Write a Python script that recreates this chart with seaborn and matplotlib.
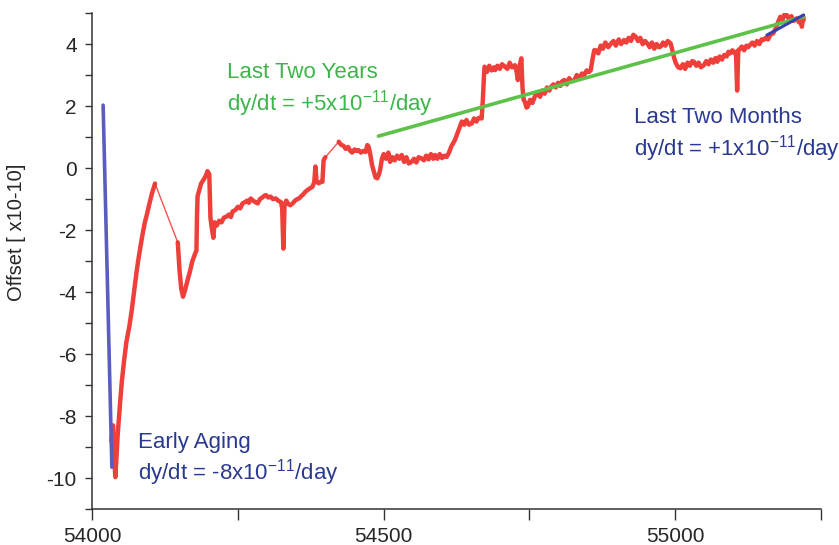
import numpy as np
import pandas as pd
import matplotlib
matplotlib.use("Agg")
import matplotlib.pyplot as plt
import seaborn as sns

# ---- data ----
mjd = [54033, 54036, 54038, 54040, 54044, 54048, 54051, 54055, 54059, 54064, 54068, 54072, 54076, 54079, 54082,
       54086, 54090, 54094, 54099, 54103, 54108, 54147, 54150, 54153, 54156, 54160, 54164, 54167, 54172, 54176,
       54179, 54180, 54181, 54184, 54187, 54192, 54195, 54198, 54201, 54203, 54205, 54208, 54210, 54214, 54218,
       54222, 54226, 54230, 54235, 54238, 54241, 54246, 54250, 54254, 54258, 54262, 54266, 54269, 54272, 54276,
       54280, 54284, 54288, 54292, 54295, 54298, 54302, 54306, 54310, 54315, 54319, 54322, 54324, 54326, 54328,
       54330, 54333, 54336, 54340, 54344, 54348, 54352, 54355, 54359, 54362, 54366, 54370, 54374, 54378, 54381,
       54383, 54385, 54389, 54392, 54395, 54397, 54400, 54423, 54427, 54431, 54435, 54439, 54443, 54446, 54450,
       54454, 54457, 54461, 54465, 54469, 54472, 54474, 54477, 54480, 54483, 54486, 54489, 54492, 54494, 54497,
       54500, 54504, 54508, 54511, 54515, 54519, 54523, 54527, 54531, 54535, 54539, 54543, 54548, 54552, 54556,
       54560, 54565, 54569, 54573, 54577, 54581, 54585, 54588, 54592, 54596, 54600, 54604, 54608, 54612, 54616,
       54619, 54622, 54626, 54630, 54634, 54638, 54642, 54646, 54651, 54655, 54659, 54663, 54668, 54670, 54672,
       54673, 54677, 54681, 54685, 54689, 54691, 54695, 54699, 54703, 54708, 54712, 54716, 54720, 54725, 54728,
       54730, 54733, 54736, 54738, 54740, 54742, 54745, 54747, 54751, 54755, 54760, 54764, 54768, 54772, 54776,
       54780, 54784, 54787, 54791, 54795, 54799, 54803, 54806, 54810, 54814, 54818, 54822, 54827, 54831, 54835,
       54840, 54844, 54848, 54852, 54855, 54858, 54861, 54864, 54868, 54872, 54876, 54880, 54885, 54890, 54894,
       54898, 54903, 54907, 54912, 54916, 54920, 54924, 54928, 54932, 54936, 54940, 54944, 54948, 54952, 54956,
       54960, 54964, 54968, 54972, 54975, 54979, 54983, 54987, 54992, 54995, 54998, 55001, 55005, 55009, 55013,
       55017, 55021, 55025, 55029, 55032, 55036, 55040, 55044, 55049, 55053, 55057, 55061, 55065, 55069, 55072,
       55076, 55080, 55084, 55088, 55091, 55094, 55098, 55102, 55104, 55106, 55108, 55111, 55114, 55118, 55122,
       55125, 55128, 55132, 55136, 55140, 55144, 55148, 55151, 55155, 55159, 55163, 55168, 55172, 55176, 55180,
       55184, 55187, 55191, 55195, 55199, 55203, 55208, 55212, 55215, 55217, 55219, 55220]
offset = [-8.8, -8.3, -9.4, -9.97, -8.6, -7.6, -6.9, -6.2, -5.6, -5.1, -4.6, -4.0, -3.4, -3.0, -2.65,
          -2.2, -1.8, -1.5, -1.1, -0.8, -0.5, -2.4, -3.3, -3.9, -4.15, -3.9, -3.6, -3.4, -3.0, -2.8,
          -2.65, -1.5, -0.9, -0.7, -0.5, -0.35, -0.25, -0.1, -0.2, -1.6, -1.9, -2.25, -1.75, -1.85, -1.7,
          -1.75, -1.6, -1.57, -1.5, -1.58, -1.4, -1.35, -1.25, -1.3, -1.14, -1.1, -1.05, -1.12, -0.98, -1.05,
          -1.1, -1.14, -1.0, -0.95, -0.9, -0.87, -0.95, -0.92, -1.0, -0.98, -1.05, -1.08, -1.1, -1.3, -2.6,
          -1.2, -1.05, -1.15, -1.2, -1.14, -1.05, -1.0, -0.98, -0.9, -0.85, -0.76, -0.7, -0.65, -0.6, -0.45,
          0.05, -0.45, -0.49, -0.45, -0.44, 0.25, 0.35, 0.85, 0.75, 0.72, 0.62, 0.68, 0.55, 0.5, 0.6,
          0.55, 0.58, 0.5, 0.55, 0.52, 0.74, 0.7, 0.45, 0.1, -0.1, -0.3, -0.33, -0.2, -0.05, 0.3,
          0.45, 0.3, 0.5, 0.2, 0.35, 0.25, 0.4, 0.3, 0.42, 0.2, 0.35, 0.15, 0.2, 0.3, 0.18,
          0.35, 0.31, 0.25, 0.4, 0.28, 0.45, 0.3, 0.42, 0.3, 0.45, 0.32, 0.4, 0.36, 0.5, 0.7,
          0.8, 0.9, 1.1, 1.3, 1.5, 1.4, 1.55, 1.4, 1.44, 1.6, 1.5, 1.62, 1.6, 2.2, 3.0,
          3.27, 3.1, 3.3, 3.15, 3.25, 3.16, 3.3, 3.2, 3.35, 3.27, 3.2, 3.4, 3.25, 3.32, 3.1,
          2.84, 3.3, 3.54, 2.6, 2.2, 2.14, 1.95, 1.98, 2.2, 2.1, 2.35, 2.41, 2.3, 2.5, 2.4,
          2.6, 2.5, 2.62, 2.7, 2.6, 2.75, 2.65, 2.8, 2.84, 2.7, 2.9, 2.8, 2.84, 3.0, 2.9,
          3.05, 3.0, 3.15, 3.1, 3.16, 3.5, 3.8, 3.8, 3.7, 3.95, 3.85, 4.05, 3.9, 4.02, 4.1,
          3.95, 4.15, 4.0, 4.13, 4.05, 4.2, 4.1, 4.3, 4.24, 4.1, 4.2, 4.0, 4.1, 4.02, 3.9,
          4.05, 3.85, 4.0, 3.9, 3.92, 4.05, 3.95, 4.1, 4.02, 3.8, 3.55, 3.38, 3.25, 3.22, 3.35,
          3.2, 3.4, 3.3, 3.45, 3.43, 3.3, 3.4, 3.25, 3.32, 3.45, 3.35, 3.5, 3.4, 3.55, 3.43,
          3.6, 3.5, 3.65, 3.6, 3.75, 3.7, 3.8, 3.7, 3.75, 2.5, 3.8, 3.85, 3.92, 3.8, 3.95,
          3.9, 3.97, 4.05, 3.95, 4.1, 4.0, 4.15, 4.13, 4.2, 4.15, 4.3, 4.35, 4.5, 4.7, 4.88,
          4.8, 4.95, 4.94, 4.8, 4.9, 4.75, 4.83, 4.7, 4.85, 4.56, 4.9, 4.77]

early_fit_x = [54019, 54034]
early_fit_y = [2.03, -9.65]
years_fit_x = [54491, 55220]
years_fit_y = [1.03, 4.88]
months_fit_x = [55157, 55220]
months_fit_y = [4.29, 4.94]

x_major = [54000, 54500, 55000]
x_minor = [54250, 54750, 55250]
y_major = [-10, -8, -6, -4, -2, 0, 2, 4]
y_minor = [-11, -9, -7, -5, -3, -1, 1, 3, 5]

# ---- style ----
sns.set_theme(style="ticks")
plt.rcParams['font.family'] = ['Liberation Sans', 'DejaVu Sans']
plt.rcParams['mathtext.fontset'] = 'custom'
plt.rcParams['mathtext.rm'] = 'Liberation Sans'
plt.rcParams['mathtext.it'] = 'Liberation Sans'
plt.rcParams['mathtext.sf'] = 'Liberation Sans'

RED = '#ee2a24'
GREEN = '#5ec24a'
GREEN_TXT = '#3db54a'
BLUE_LINE = '#5a5cc0'
BLUE_TXT = '#2b3990'
SPINE = '#333333'

fig = plt.figure(figsize=(8.39, 5.45), dpi=100)
ax = fig.add_axes([0.1097, 0.066, 0.869, 0.910])

df = pd.DataFrame({'mjd': mjd, 'offset': offset})
# thin connector lines across data gaps
gap = df['mjd'].diff() > 15
conn_idx = [i for i in df.index[gap]]
for i in conn_idx:
    seg = df.iloc[i - 1:i + 1]
    sns.lineplot(data=seg, x='mjd', y='offset', ax=ax, color=RED, lw=1.0, alpha=0.8,
                 estimator=None, sort=False, zorder=2)
# thick measured segments
df['seg'] = gap.cumsum()
for _, seg in df.groupby('seg'):
    sns.lineplot(data=seg, x='mjd', y='offset', ax=ax, color=RED, lw=3.2, alpha=0.9,
                 estimator=None, sort=False, zorder=2)

sns.lineplot(x=early_fit_x, y=early_fit_y, ax=ax, color=BLUE_LINE, lw=2.6, estimator=None, zorder=3)
sns.lineplot(x=years_fit_x, y=years_fit_y, ax=ax, color=GREEN, lw=2.6, estimator=None, zorder=3)
sns.lineplot(x=months_fit_x, y=months_fit_y, ax=ax, color='#3a3fb0', lw=2.2, estimator=None, zorder=4)

ax.set_xlim(54000, 55250)
ax.set_ylim(-11, 5)
ax.set_xticks(x_major)
ax.set_xticks(x_minor, minor=True)
ax.set_yticks(y_major)
ax.set_yticks(y_minor, minor=True)
ax.set_xticklabels([str(v) for v in x_major])
ax.set_yticklabels([str(v) for v in y_major])

ax.tick_params(axis='x', which='both', length=8, width=1.0, color=SPINE, pad=5, labelsize=15)
ax.tick_params(axis='y', which='both', length=5, width=1.0, color=SPINE, pad=6, labelsize=15)
for s in ['top', 'right']:
    ax.spines[s].set_visible(False)
for s in ['left', 'bottom']:
    ax.spines[s].set_color(SPINE)
    ax.spines[s].set_linewidth(1.1)

ax.set_xlabel('')
ax.set_ylabel('Offset [ x10-10]', fontsize=14.5)
ax.yaxis.set_label_coords(-0.0905, 0.558)

fs = 16
ax.text(54232, 2.9, 'Last Two Years', color=GREEN_TXT, fontsize=fs, va='baseline')
ax.text(54232, 1.87, r'dy/dt = +5x10$^{\mathregular{-11}}$/day', color=GREEN_TXT, fontsize=fs, va='baseline')
ax.text(54929, 1.45, 'Last Two Months', color=BLUE_TXT, fontsize=fs, va='baseline')
ax.text(54929, 0.39, r'dy/dt = +1x10$^{\mathregular{-11}}$/day', color=BLUE_TXT, fontsize=fs, va='baseline')
ax.text(54078, -9.03, 'Early Aging', color=BLUE_TXT, fontsize=fs, va='baseline')
ax.text(54078, -10.06, r'dy/dt = -8x10$^{\mathregular{-11}}$/day', color=BLUE_TXT, fontsize=fs, va='baseline')

fig.savefig('out.png', dpi=100)
